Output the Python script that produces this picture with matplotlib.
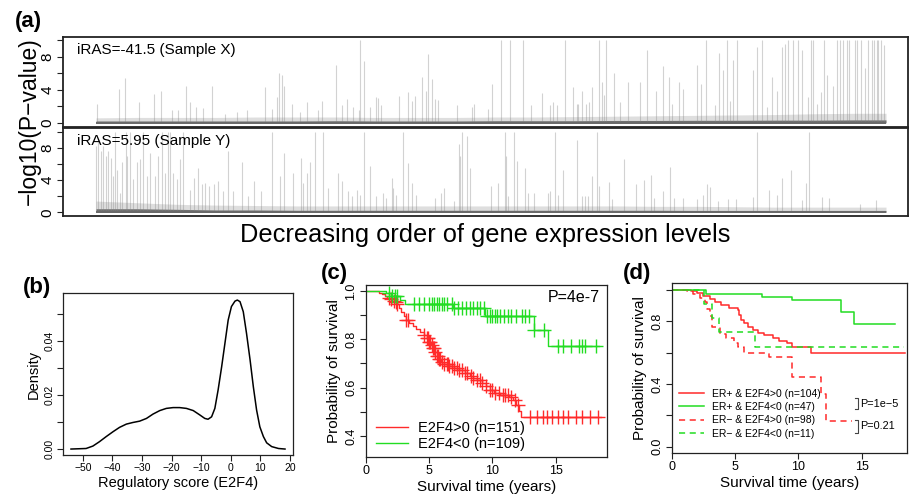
import numpy as np
import matplotlib
matplotlib.use('Agg')
import matplotlib.pyplot as plt

plt.rcParams['font.family'] = ['Liberation Sans', 'DejaVu Sans']

# ---------------- data ----------------
# (a) gene rank positions (ordered by decreasing expression) and -log10(P) of notable genes
top_rank = [1, 23, 29, 43, 58, 65, 76, 82, 90, 94, 100, 107, 116, 129, 141, 151, 169, 176, 181, 183,
            186, 188, 196, 204, 211, 222, 226, 240, 246, 251, 257, 263, 264, 268, 274, 280, 282, 285,
            303, 312, 316, 319, 326, 330, 332, 336, 339, 342, 361, 376, 378, 392, 396, 405, 414, 427,
            435, 446, 454, 457, 461, 469, 477, 481, 482, 486, 490, 493, 496, 503, 506, 508, 510, 518,
            524, 532, 544, 551, 560, 567, 573, 576, 583, 587, 601, 605, 610, 619, 623, 627, 631, 634,
            637, 641, 657, 661, 666, 671, 676, 681, 686, 689, 692, 697, 702, 706, 712, 715, 717, 721,
            725, 728, 731, 737, 741, 744, 747, 751, 753, 759, 761, 765, 769, 772, 776, 778, 781, 782,
            785, 788]
top_logp = [2.3, 4.1, 5.4, 2.5, 3.5, 3.8, 1.5, 1.5, 4.5, 2.5, 1.9, 1.8, 4.4, 1.1, 1.3, 1.5, 4.3, 1.7,
            3.1, 6.0, 5.75, 4.5, 2.3, 1.3, 2.5, 1.5, 2.7, 7.0, 2.1, 2.9, 1.9, 1.5, 10.0, 7.45, 1.9, 3.1,
            3.0, 2.1, 3.2, 3.7, 2.7, 3.3, 5.6, 3.9, 8.3, 5.35, 2.9, 2.8, 2.1, 1.9, 2.3, 1.7, 4.7, 10.0,
            10.0, 10.0, 2.1, 3.6, 2.1, 2.5, 2.1, 10.0, 4.3, 2.3, 2.3, 3.9, 2.3, 2.5, 4.3, 10.0, 4.9, 3.4,
            10.0, 6.0, 2.5, 4.9, 4.9, 8.8, 3.9, 6.85, 5.5, 2.3, 5.0, 4.1, 6.97, 4.7, 10.0, 2.1, 8.5, 6.4,
            10.0, 2.7, 7.6, 10.0, 6.4, 9.2, 10.0, 1.9, 5.6, 3.9, 9.2, 9.6, 10.0, 10.0, 10.0, 8.8, 3.1,
            10.0, 10.0, 2.3, 3.7, 10.0, 5.8, 4.5, 10.0, 10.0, 10.0, 10.0, 10.0, 10.0, 10.0, 10.0, 6.6,
            10.0, 10.0, 10.0, 10.0, 10.0, 10.0, 9.4]

bot_rank = [0, 2, 5, 7, 10, 12, 15, 17, 19, 21, 24, 26, 30, 31, 34, 37, 41, 44, 47, 51, 54, 59, 62, 66,
            69, 72, 74, 77, 81, 84, 87, 94, 98, 102, 106, 109, 113, 118, 122, 127, 132, 137, 146, 152,
            158, 165, 176, 184, 188, 197, 205, 207, 211, 214, 219, 227, 232, 242, 246, 252, 256, 261,
            264, 268, 274, 280, 287, 290, 296, 297, 300, 307, 312, 316, 320, 339, 345, 348, 358, 363,
            364, 366, 371, 374, 395, 402, 409, 410, 412, 418, 421, 429, 432, 438, 452, 454, 459, 462,
            467, 481, 486, 489, 492, 496, 501, 503, 513, 516, 528, 540, 548, 555, 558, 567, 574, 578,
            587, 601, 607, 611, 614, 622, 632, 640, 657, 661, 673, 681, 686, 695, 706, 710, 713, 726,
            733, 764, 780]
bot_logp = [8.25, 9.1, 7.6, 8.25, 7.0, 7.6, 6.8, 4.5, 10.0, 5.3, 2.4, 6.2, 10.0, 7.0, 10.0, 4.1, 6.2,
            6.6, 10.0, 4.5, 7.4, 4.5, 7.0, 10.0, 4.9, 10.0, 10.0, 4.9, 4.1, 6.6, 10.0, 2.8, 4.3, 5.5,
            3.5, 3.7, 3.3, 3.5, 3.9, 2.6, 7.6, 2.6, 6.2, 2.0, 3.9, 2.6, 10.0, 4.5, 7.4, 4.9, 6.8, 3.7,
            4.9, 6.3, 10.0, 10.0, 3.0, 4.9, 3.9, 2.6, 2.0, 2.8, 2.2, 10.0, 5.7, 2.0, 2.4, 1.8, 4.3, 3.0,
            2.2, 10.0, 6.1, 3.7, 2.2, 1.8, 2.4, 3.0, 1.4, 8.5, 7.0, 10.0, 9.5, 5.5, 3.3, 3.7, 10.0, 7.0,
            2.0, 10.0, 6.4, 5.5, 2.4, 2.4, 2.4, 2.6, 10.0, 2.2, 5.3, 9.0, 2.0, 2.0, 2.0, 4.5, 10.0, 3.3,
            3.8, 1.7, 6.6, 3.5, 4.0, 4.6, 1.8, 2.7, 5.6, 1.8, 1.8, 1.6, 2.2, 3.5, 3.1, 1.4, 1.6, 1.7,
            1.9, 10.0, 2.8, 2.1, 4.2, 5.3, 1.5, 3.7, 10.0, 1.9, 1.8, 1.0, 1.5]

# dense low-level background of all genes: band heights along the rank axis
band_rank = [0, 40, 80, 120, 160, 200, 240, 280, 320, 360, 400, 440, 480, 520, 560, 600, 640, 680, 720, 760, 790]
top_band_core = [0.22, 0.22, 0.22, 0.22, 0.22, 0.22, 0.25, 0.22, 0.22, 0.22, 0.25, 0.25, 0.25, 0.28, 0.28, 0.3, 0.3, 0.32, 0.32, 0.35, 0.35]
top_band_fringe = [0.6, 0.65, 0.65, 0.65, 0.7, 0.7, 0.7, 0.65, 0.65, 0.65, 0.7, 0.7, 0.75, 0.8, 0.85, 0.9, 0.95, 1.0, 1.1, 1.15, 1.15]
bot_band_core = [0.45, 0.45, 0.38, 0.3, 0.3, 0.26, 0.26, 0.26, 0.26, 0.26, 0.26, 0.26, 0.26, 0.26, 0.26, 0.24, 0.24, 0.24, 0.24, 0.24, 0.24]
bot_band_fringe = [1.4, 1.2, 1.0, 0.9, 0.85, 0.8, 0.8, 0.8, 0.8, 0.8, 0.8, 0.8, 0.8, 0.8, 0.75, 0.75, 0.7, 0.65, 0.65, 0.65, 0.65]

# (b) density of E2F4 regulatory score
score = [-54, -48.9, -46.6, -44.4, -42.1, -39.8, -37.6, -35.3, -33.1, -30.8, -28.5, -26.3, -24.0, -21.8,
         -19.5, -17.3, -15.0, -12.7, -10.5, -8.8, -7.7, -6.5, -5.4, -4.3, -3.1, -2.0, -0.9, 0.2, 1.4,
         2.2, 3.1, 4.2, 5.3, 6.5, 7.6, 8.7, 9.8, 11.0, 12.1, 13.8, 16.1, 18.3]
density = [0.0, 0.0002, 0.0011, 0.0027, 0.0046, 0.0064, 0.008, 0.0092, 0.0098, 0.0103, 0.0113, 0.0129,
           0.0142, 0.015, 0.0153, 0.0153, 0.015, 0.0142, 0.0126, 0.0113, 0.011, 0.0119, 0.015, 0.0218,
           0.0304, 0.039, 0.0476, 0.0526, 0.0546, 0.055, 0.0544, 0.0507, 0.0427, 0.0329, 0.023, 0.0144,
           0.0082, 0.0046, 0.0023, 0.0009, 0.0002, 0.0]

# (c) Kaplan-Meier, E2F4>0 vs E2F4<0
pos_time = [1.05, 1.3, 1.5, 1.7, 1.9, 2.1, 2.3, 2.5, 2.65, 2.8, 3.0, 3.2, 3.4, 3.7, 4.0, 4.3, 4.6, 4.8,
            5.0, 5.15, 5.3, 5.45, 5.6, 5.75, 5.95, 6.2, 6.6, 7.0, 7.4, 7.8, 8.2, 8.5, 8.8, 9.2, 9.5, 9.8,
            10.1, 10.6, 11.3, 11.6, 11.9, 12.1, 12.25]
pos_surv = [0.993, 0.987, 0.98, 0.973, 0.967, 0.96, 0.953, 0.945, 0.93, 0.915, 0.895, 0.88, 0.866, 0.855,
            0.842, 0.83, 0.818, 0.805, 0.79, 0.778, 0.765, 0.748, 0.732, 0.718, 0.706, 0.698, 0.69, 0.68,
            0.672, 0.662, 0.65, 0.64, 0.63, 0.618, 0.605, 0.59, 0.578, 0.57, 0.563, 0.548, 0.528, 0.505,
            0.478]
pos_end = 18.6
pos_cens = [1.8, 2.0, 2.2, 2.4, 2.5, 3.2, 3.3, 4.6, 4.8, 4.9, 5.0, 5.1, 5.2, 5.3, 5.4, 5.5, 5.6, 5.7, 5.8,
            5.9, 6.0, 6.2, 6.4, 6.5, 6.6, 6.8, 7.0, 7.2, 7.4, 7.6, 7.8, 8.0, 8.3, 8.5, 8.8, 9.0, 9.2, 9.5,
            9.8, 10.0, 10.2, 10.5, 10.8, 11.0, 11.2, 11.5, 11.8, 12.0, 13.0, 13.5, 14.0, 14.3, 14.7, 15.2,
            15.6, 16.0, 16.6, 17.1, 17.7, 18.3]
neg_time = [1.6, 2.0, 2.7, 3.1, 6.9, 9.4, 13.3, 14.4]
neg_surv = [0.99, 0.981, 0.962, 0.945, 0.928, 0.897, 0.84, 0.772]
neg_end = 18.4
neg_cens = [1.8, 2.1, 2.3, 2.5, 3.8, 4.2, 4.6, 5.0, 5.2, 5.4, 5.6, 5.8, 6.0, 6.2, 6.4, 6.8, 7.0, 7.3, 7.6,
            7.9, 8.2, 8.5, 8.8, 9.0, 9.3, 9.6, 9.8, 10.0, 10.2, 10.4, 10.6, 10.9, 11.2, 11.5, 11.9, 12.3,
            12.6, 12.9, 13.3, 14.1, 15.2, 15.6, 16.2, 16.8, 17.1, 17.3, 18.2]
c_labels = ['E2F4>0 (n=151)', 'E2F4<0 (n=109)']

# (d) Kaplan-Meier by ER status and E2F4 sign
d_labels = ['ER+ & E2F4>0 (n=104)', 'ER+ & E2F4<0 (n=47)', 'ER\u2212 & E2F4>0 (n=98)', 'ER\u2212 & E2F4<0 (n=11)']
d_times = [
    [1.5, 2.0, 2.5, 3.0, 3.4, 3.9, 4.5, 5.2, 5.35, 5.5, 5.7, 6.0, 6.4, 6.8, 7.3, 8.0, 8.5, 9.1, 9.5, 11.0],
    [2.7, 7.1, 9.5, 13.4, 14.4],
    [1.2, 1.7, 2.2, 2.6, 2.8, 3.0, 3.2, 3.8, 4.3, 4.9, 5.2, 5.7, 7.7, 9.5, 11.8, 12.2],
    [2.55, 3.15, 3.7, 6.6],
]
d_surv = [
    [0.99, 0.98, 0.96, 0.94, 0.92, 0.9, 0.885, 0.87, 0.84, 0.81, 0.79, 0.765, 0.745, 0.725, 0.71, 0.69, 0.675, 0.66, 0.637, 0.6],
    [0.97, 0.955, 0.933, 0.86, 0.78],
    [0.99, 0.97, 0.95, 0.92, 0.88, 0.83, 0.76, 0.72, 0.69, 0.66, 0.637, 0.6, 0.573, 0.446, 0.334, 0.165],
    [0.91, 0.82, 0.73, 0.637],
]
d_end = [18.4, 17.6, 14.2, 18.3]
d_pvals = ['P=1e\u22125', 'P=0.21']

RED = '#ff2a2a'
GREEN = '#22dd22'

# ---------------- figure ----------------
W, H = 909, 500
fig = plt.figure(figsize=(W / 100, H / 100), dpi=100)


def box(l, t, r, b):
    return [l / W, 1 - b / H, (r - l) / W, (b - t) / H]


def ftext(px, py, s, **kw):
    fig.text(px / W, 1 - py / H, s, **kw)


def rstyle(ax, fs, lw=0.9):
    for s in ax.spines.values():
        s.set_linewidth(lw)
        s.set_color('#222222')
    ax.tick_params(direction='out', length=4, width=0.8, labelsize=fs, pad=2, color='#222222')


def rot_yticks(ax):
    for t in ax.get_yticklabels():
        t.set_rotation(90)
        t.set_va('center')


# ---- (a) ----
def panel_a(ax, rank, logp, core, fringe, label):
    ax.fill_between(band_rank, 0, fringe, color='#c4c4c4', lw=0, alpha=0.55)
    ax.vlines(rank, 0, logp, color='#808080', alpha=0.35, lw=0.8)
    ax.fill_between(band_rank, 0, core, color='#707070', lw=0)
    ax.plot([band_rank[0], band_rank[-1]], [0, 0], color='#6a6a6a', lw=1.4, solid_capstyle='butt')
    ax.set_xlim(-33, 812)
    ax.set_ylim(-0.45, 10.4)
    ax.set_xticks([])
    ax.set_yticks([0, 2, 4, 6, 8, 10])
    ax.set_yticklabels(['0', '', '4', '', '8', ''])
    rstyle(ax, 11, lw=1.3)
    rot_yticks(ax)
    ax.text(0.017, 0.86, label, transform=ax.transAxes, fontsize=11, va='center', ha='left')


axA1 = fig.add_axes(box(63, 37, 908, 126.5))
panel_a(axA1, top_rank, top_logp, top_band_core, top_band_fringe, 'iRAS=-41.5 (Sample X)')
axA2 = fig.add_axes(box(63, 128.5, 908, 216))
panel_a(axA2, bot_rank, bot_logp, bot_band_core, bot_band_fringe, 'iRAS=5.95 (Sample Y)')

ftext(29, 121, '\u2212log10(P\u2212value)', rotation=90, fontsize=16.5, ha='center', va='center')
ftext(485, 235, 'Decreasing order of gene expression levels', fontsize=18.3, ha='center', va='center')
ftext(28, 22, '(a)', fontsize=16, fontweight='bold', ha='center', va='center')

# ---- (b) ----
axB = fig.add_axes(box(63, 293, 293, 455))
axB.plot(score, density, color='black', lw=1.1)
axB.set_xlim(-56.7, 21)
axB.set_ylim(-0.0022, 0.0576)
axB.set_xticks([-50, -40, -30, -20, -10, 0, 10, 20])
axB.set_yticks([0, 0.01, 0.02, 0.03, 0.04, 0.05])
axB.set_yticklabels(['0.00', '', '0.02', '', '0.04', ''])
rstyle(axB, 7.5)
rot_yticks(axB)
axB.set_xlabel('Regulatory score (E2F4)', fontsize=10.5, labelpad=2)
axB.set_ylabel('Density', fontsize=10.5, labelpad=3)
ftext(37, 287, '(b)', fontsize=16, fontweight='bold', ha='center', va='center')


# ---- KM helpers ----
def km_xy(times, surv, end):
    x = [0.0] + list(times) + [end]
    y = [1.0] + list(surv) + [surv[-1]]
    return x, y


def surv_at(times, surv, t):
    i = np.searchsorted(np.asarray(times), t, side='right')
    return 1.0 if i == 0 else surv[i - 1]


# ---- (c) ----
axC = fig.add_axes(box(365.7, 285, 607, 456.7))
for times, surv, end, cens, col, lab in [(pos_time, pos_surv, pos_end, pos_cens, RED, c_labels[0]),
                                         (neg_time, neg_surv, neg_end, neg_cens, GREEN, c_labels[1])]:
    x, y = km_xy(times, surv, end)
    axC.step(x, y, where='post', color=col, lw=1.0, label=lab)
    cy = [surv_at(times, surv, t) for t in cens]
    axC.plot(cens, cy, ls='none', marker='+', ms=10, mew=1.0, color=col)
axC.set_xlim(0, 19.05)
axC.set_ylim(0.314, 1.025)
axC.set_xticks([0, 5, 10, 15])
axC.set_yticks([0.4, 0.5, 0.6, 0.7, 0.8, 0.9, 1.0])
axC.set_yticklabels(['0.4', '', '0.6', '', '0.8', '', '1.0'])
rstyle(axC, 9)
rot_yticks(axC)
axC.set_xlabel('Survival time (years)', fontsize=11, labelpad=2)
axC.set_ylabel('Probability of survival', fontsize=11, labelpad=3)
axC.text(0.97, 0.93, 'P=4e-7', transform=axC.transAxes, fontsize=11.5, ha='right', va='center')
axC.legend(loc='lower left', bbox_to_anchor=(0.0, -0.025), frameon=False, fontsize=10.5,
           handlelength=2.2, handletextpad=0.7, labelspacing=0.1, borderaxespad=0.3)
ftext(334, 273, '(c)', fontsize=16, fontweight='bold', ha='center', va='center')

# ---- (d) ----
axD = fig.add_axes(box(671.7, 282.7, 907, 453))
d_cols = [RED, GREEN, RED, GREEN]
d_ls = ['-', '-', (0, (4, 3)), (0, (4, 3))]
for times, surv, end, col, ls, lab in zip(d_times, d_surv, d_end, d_cols, d_ls, d_labels):
    x, y = km_xy(times, surv, end)
    axD.step(x, y, where='post', color=col, lw=1.1, ls=ls, label=lab)
axD.set_xlim(0, 18.57)
axD.set_ylim(-0.04, 1.045)
axD.set_xticks([0, 5, 10, 15])
axD.set_yticks([0, 0.2, 0.4, 0.6, 0.8, 1.0])
axD.set_yticklabels(['0.0', '', '0.4', '', '0.8', ''])
rstyle(axD, 9)
rot_yticks(axD)
axD.set_xlabel('Survival time (years)', fontsize=11, labelpad=2)
axD.set_ylabel('Probability of survival', fontsize=11, labelpad=3)
axD.legend(loc='lower left', bbox_to_anchor=(0.0, 0.04), frameon=False, fontsize=7.5,
           handlelength=2.4, handletextpad=0.8, labelspacing=0.33, borderaxespad=0.3)
# p-value brackets
for (y0, y1), txt in zip([(0.31, 0.24), (0.17, 0.089)], d_pvals):
    axD.plot([14.5, 14.7, 14.7, 14.5], [y0, y0, y1, y1], color='#444444', lw=0.8)
    axD.text(14.85, (y0 + y1) / 2, txt, fontsize=7.8, ha='left', va='center')
ftext(637, 273, '(d)', fontsize=16, fontweight='bold', ha='center', va='center')

fig.savefig('out.png', dpi=100)
